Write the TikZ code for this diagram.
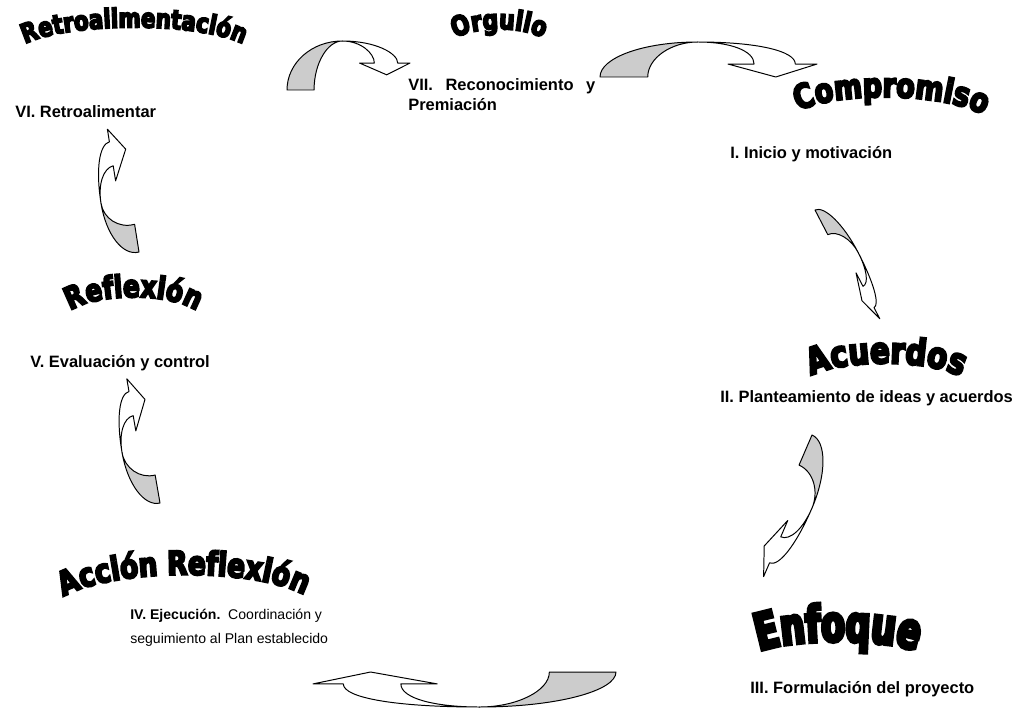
\documentclass[tikz,border=0pt]{standalone}
\usepackage{fontspec}
\setmainfont{Liberation Sans}
\newfontfamily\titlefont{DejaVu Sans}[UprightFont={* Bold}, FakeBold=6, FakeStretch=0.8]
\newfontfamily\bigtitlefont{DejaVu Sans}[UprightFont={* Bold}, FakeBold=7, FakeStretch=0.68]
\usetikzlibrary{decorations.text}

% twisted curved block arrow, drawn in a unit frame and mapped by cm
\newcommand{\curvarrow}[3]{%
  \begin{scope}[cm={#1}]
    \filldraw[backside] (0,0) .. controls (0,-0.55) and (0.2,-1) .. (0.45,-1)
      .. controls (0.33,-1) and (0.22,-0.55) .. (0.22,0) -- cycle;
    \filldraw[frontside] (0.45,-1) .. controls (0.72,-1) and (0.9,-0.75) .. (0.9,#2)
      -- (1,#2) -- (0.81,#3) -- (0.59,#2) -- (0.71,#2)
      .. controls (0.71,-0.75) and (0.6,-1) .. (0.45,-1) -- cycle;
  \end{scope}}

% arched word-art title along a curve
\newcommand{\archtitle}[4]{%
  \path[decorate, decoration={text along path, text align=center,
    text={|#1\fontsize{#2}{#2}\selectfont|#3}}] #4;}

\begin{document}
\begin{tikzpicture}[
  x=0.025cm, y=-0.025cm,
  stage/.style={inner sep=0pt, font=\fontsize{11.7}{14.2}\selectfont\bfseries},
  backside/.style={draw=black, fill=black!20, line width=0.7pt, line join=round},
  frontside/.style={draw=black, fill=white, line width=0.7pt, line join=round}
]
\useasboundingbox (0,0) rectangle (1016,708);

% titles
\archtitle{\titlefont}{19}{Retroalimentación}{(16,50) .. controls (50,20) and (218,20) .. (252,50)}
\archtitle{\titlefont}{19.5}{Orgullo}{(446,45) .. controls (465,24) and (533,24) .. (552,45)}
\archtitle{\titlefont}{24}{Compromiso}{(794,114) .. controls (830,90) and (952,92) .. (988,118)}
\archtitle{\titlefont}{26}{Acuerdos}{(806,379) .. controls (836,358) and (936,358) .. (966,380)}
\archtitle{\titlefont}{22}{Reflexión}{(68,313) .. controls (92,292) and (175,292) .. (199,313)}
\archtitle{\titlefont}{23.5}{Acción Reflexión}{(56,602) .. controls (100,566) and (268,566) .. (312,600)}
\archtitle{\bigtitlefont}{36}{Enfoque}{(758,652) .. controls (790,638) and (886,638) .. (918,652)}

% stages
\node[stage, anchor=base west] (retro) at (15,118) {VI. Retroalimentar};
\node[stage, anchor=north west, align=left] (recon) at (408,78.2)
  {\makebox[4.675cm][s]{VII.\ Reconocimiento\ y}\\Premiación};
\node[stage, anchor=base west] (inicio) at (730,159) {I. Inicio y motivación};
\node[stage, anchor=base west] (plant) at (720,402) {II. Planteamiento de ideas y acuerdos};
\node[stage, anchor=base west] (formul) at (750,693) {III. Formulación del proyecto};
\node[stage, anchor=north west, align=left, font=\fontsize{10}{17}\selectfont\bfseries] (ejec) at (130,609)
  {IV. Ejecución.\ \ {\mdseries Coordinación y}\\{\mdseries seguimiento al Plan establecido}};
\node[stage, anchor=base west] (eval) at (30,367) {V. Evaluación y control};

% arrows between the stages
\curvarrow{123,0,0,49,(287,90)}{-0.55}{-0.31}
\curvarrow{217,0,0,35,(600,77)}{-0.37}{0}
\curvarrow{58,-112,17,8,(815,210)}{-0.4}{0}
\curvarrow{-59,-137,26.5,-11.5,(812,435)}{-0.4}{0}
\curvarrow{-303,0,0,-35,(616,672)}{-0.34}{0}
\curvarrow{-22,127,-28,-7,(160,503)}{-0.4}{0.1}
\curvarrow{-20,126,-29,-8,(139,252)}{-0.4}{0.1}
\end{tikzpicture}
\end{document}
